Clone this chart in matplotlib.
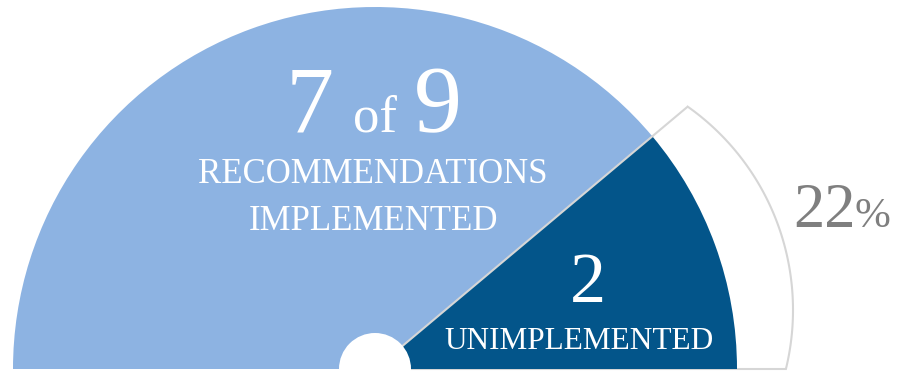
import numpy as np
import matplotlib.pyplot as plt
from matplotlib.patches import Wedge, Circle, Polygon

# data
implemented = 7
total = 9
unimpl = total - implemented
pct_unimpl = 22
lbl_main = ["RECOMMENDATIONS", "IMPLEMENTED"]
lbl_unimpl = "UNIMPLEMENTED"

LIGHT = "#8DB3E2"
DARK = "#03558A"
GRAY = "#D6D6D6"
TXT_GRAY = "#7F7F7F"

W, H = 898, 371
fig = plt.figure(figsize=(W / 100, H / 100), dpi=100)
ax = fig.add_axes([0, 0, 1, 1])
ax.set_xlim(0, W)
ax.set_ylim(0, H)
ax.set_aspect("equal")
ax.axis("off")

cx, cy = 375, 2          # centre of the half dial
r = 362
split = 180 - 180 * implemented / total   # angle between the two parts
a = np.deg2rad(split)

serif = ["Liberation Serif", "DejaVu Serif"]

# outline shape behind the unimplemented part
r_tip = 408
tip = (cx + r_tip * np.cos(a), cy + r_tip * np.sin(a))
ocx, ocy, orad = 544, 61, 249          # centre/radius of the outline's curved edge
bot_x = ocx + np.sqrt(orad ** 2 - (ocy - cy) ** 2)
t0 = np.arctan2(tip[1] - ocy, tip[0] - ocx)
t1 = np.arctan2(cy - ocy, bot_x - ocx)
t = np.linspace(t0, t1, 100)
arc = np.column_stack([ocx + orad * np.cos(t), ocy + orad * np.sin(t)])
pts = np.vstack([[[cx, cy]], [tip], arc, [[cx, cy]]])
ax.add_patch(Polygon(pts, closed=True, facecolor="white", edgecolor=GRAY,
                     linewidth=1.5, joinstyle="miter", zorder=1))

ax.add_patch(Wedge((cx, cy), r, split, 180, facecolor=LIGHT,
                   edgecolor="none", zorder=2))
ax.add_patch(Wedge((cx, cy), r, 0, split, facecolor=DARK,
                   edgecolor="none", zorder=2))
ax.plot([cx, cx + r * np.cos(a)], [cy, cy + r * np.sin(a)], color=GRAY,
        linewidth=1.5, zorder=3)
ax.add_patch(Circle((cx, cy), 36, facecolor="white", edgecolor="none", zorder=4))

# texts
ax.text(310, H - 132, str(implemented), color="white", fontsize=69,
        family=serif, ha="center", va="baseline", zorder=5)
ax.text(375, H - 132, "of", color="white", fontsize=38,
        family=serif, ha="center", va="baseline", zorder=5)
ax.text(438, H - 132, str(total), color="white", fontsize=69,
        family=serif, ha="center", va="baseline", zorder=5)
ax.text(373, H - 183, lbl_main[0], color="white", fontsize=25,
        family=serif, ha="center", va="baseline", zorder=5)
ax.text(374, H - 230, lbl_main[1], color="white", fontsize=25,
        family=serif, ha="center", va="baseline", zorder=5)

ax.text(588, H - 302, str(unimpl), color="white", fontsize=52,
        family=serif, ha="center", va="baseline", zorder=5)
ax.text(579, H - 349, lbl_unimpl, color="white", fontsize=22.5,
        family=serif, ha="center", va="baseline", zorder=5)

ax.text(793, H - 227, str(pct_unimpl), color=TXT_GRAY, fontsize=45,
        family=serif, ha="left", va="baseline", zorder=5)
ax.text(855, H - 227, "%", color=TXT_GRAY, fontsize=31,
        family=serif, ha="left", va="baseline", zorder=5)

fig.savefig("out.png", dpi=100, facecolor="white")
